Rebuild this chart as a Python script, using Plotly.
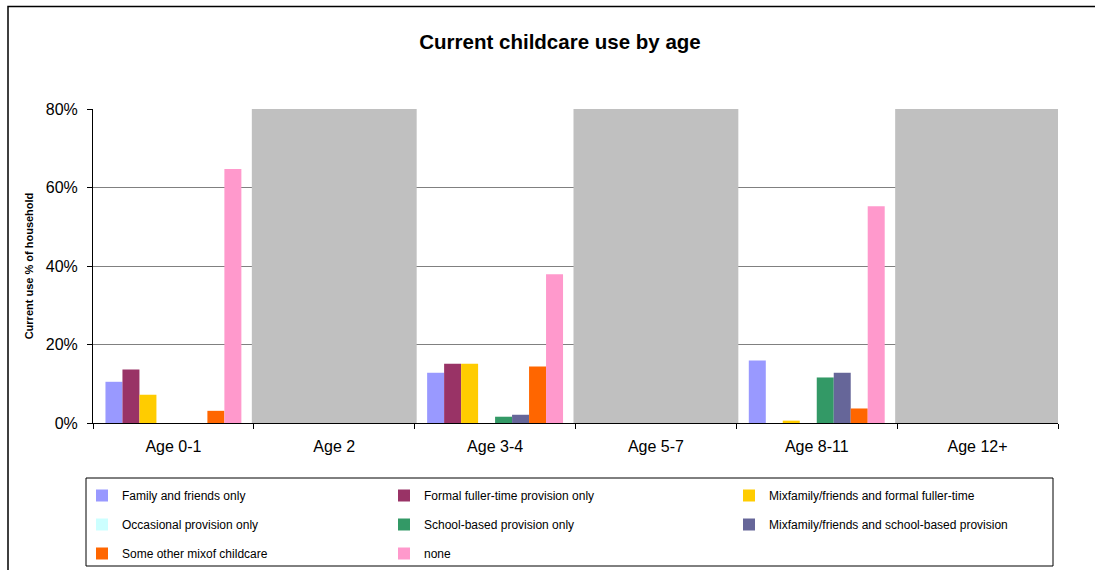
import plotly.graph_objects as go

categories = ["Age 0-1", "Age 2", "Age 3-4", "Age 5-7", "Age 8-11", "Age 12+"]

series_names = [
    "Family and friends only",
    "Formal fuller-time provision only",
    "Mixfamily/friends and formal fuller-time",
    "Occasional provision only",
    "School-based provision only",
    "Mixfamily/friends and school-based provision",
    "Some other mixof childcare",
    "none",
]

family_friends = [10.5, None, 12.8, None, 15.9, None]
formal_fuller = [13.6, None, 15.1, None, 0.0, None]
mix_formal = [7.2, None, 15.1, None, 0.6, None]
occasional = [0.0, None, 0.0, None, 0.0, None]
school_based = [0.0, None, 1.6, None, 11.6, None]
mix_school = [0.0, None, 2.1, None, 12.8, None]
other_mix = [3.1, None, 14.4, None, 3.7, None]
none_vals = [64.7, None, 37.9, None, 55.2, None]

no_data_band = [None, 80, None, 80, None, 80]

series_values = [family_friends, formal_fuller, mix_formal, occasional,
                 school_based, mix_school, other_mix, none_vals]
colors = ["#9999FF", "#993366", "#FFCC00", "#CCFFFF",
          "#339966", "#666699", "#FF6600", "#FF99CC"]
legend_ids = ["legend", "legend2", "legend3",
              "legend", "legend2", "legend3",
              "legend", "legend2"]

y_tickvals = [0, 20, 40, 60, 80]
y_ticktext = ["0%", "20%", "40%", "60%", "80%"]

FONT = "Liberation Sans, Arial, sans-serif"

fig = go.Figure()

for i, (name, vals, col, lg) in enumerate(zip(series_names, series_values, colors, legend_ids)):
    fig.add_trace(go.Bar(
        x=categories, y=vals, name=name,
        marker=dict(color=col, line=dict(width=0)),
        legend=lg, legendgroup=f"g{i}",
        hoverinfo="x+y+name",
    ))

fig.add_trace(go.Bar(
    x=categories, y=no_data_band, xaxis="x2",
    marker=dict(color="#C0C0C0", line=dict(width=0)),
    width=1.025, showlegend=False, hoverinfo="skip",
))

W, H = 1095, 570
L, R, T, B = 93, 37, 109, 147
pw, ph = W - L - R, H - T - B


def px_x(p):
    return (p - L) / pw


def px_y(p):
    return (H - B - p) / ph


legend_common = dict(
    orientation="v", xanchor="left", yanchor="top",
    bgcolor="rgba(0,0,0,0)", borderwidth=0,
    font=dict(family=FONT, size=12, color="#000000"),
    traceorder="grouped", tracegroupgap=10,
    itemclick=False, itemdoubleclick=False,
)

fig.update_layout(
    width=W, height=H,
    margin=dict(l=L, r=R, t=T, b=B, autoexpand=False),
    paper_bgcolor="#FFFFFF", plot_bgcolor="#FFFFFF",
    barmode="group", bargap=0.155, bargroupgap=0,
    font=dict(family=FONT, color="#000000"),
    title=dict(
        text="Current childcare use by age",
        x=560 / W, xanchor="center", xref="container",
        y=1 - 42 / H, yanchor="middle", yref="container",
        font=dict(family=FONT, size=20.5, color="#000000", weight="bold"),
    ),
    xaxis=dict(
        type="category", categoryorder="array", categoryarray=categories,
        range=[-0.5, len(categories) - 0.5],
        showline=True, linecolor="#000000", linewidth=1,
        ticks="outside", tickson="boundaries", ticklen=5, tickcolor="#000000",
        showgrid=False, zeroline=False,
        tickfont=dict(family=FONT, size=16, color="#000000"),
        ticklabelstandoff=9,
        fixedrange=True,
    ),
    xaxis2=dict(
        type="category", categoryorder="array", categoryarray=categories,
        range=[-0.5, len(categories) - 0.5],
        overlaying="x", visible=False, fixedrange=True,
    ),
    yaxis=dict(
        range=[0, 80], tickvals=y_tickvals, ticktext=y_ticktext,
        showline=True, linecolor="#000000", linewidth=1,
        ticks="outside", ticklen=5, tickcolor="#000000",
        showgrid=True, gridcolor="#808080", gridwidth=1,
        zeroline=False,
        tickfont=dict(family=FONT, size=16, color="#000000"),
        ticklabelstandoff=6,
        title=dict(text="Current use % of household", standoff=9,
                   font=dict(family=FONT, size=11, color="#000000", weight="bold")),
        fixedrange=True,
    ),
    legend=dict(x=px_x(82), y=px_y(481), **legend_common),
    legend2=dict(x=px_x(384), y=px_y(481), **legend_common),
    legend3=dict(x=px_x(729), y=px_y(481), **legend_common),
    shapes=[
        dict(type="rect", xref="paper", yref="paper",
             x0=px_x(86), x1=px_x(1053), y0=px_y(566), y1=px_y(478),
             line=dict(color="#000000", width=1), fillcolor="rgba(0,0,0,0)", layer="above"),
        dict(type="rect", xref="paper", yref="paper",
             x0=px_x(8), x1=px_x(1110), y0=px_y(590), y1=px_y(6.5),
             line=dict(color="#000000", width=1.5), fillcolor="rgba(0,0,0,0)", layer="above"),
    ],
)

fig.write_html("out.html")
